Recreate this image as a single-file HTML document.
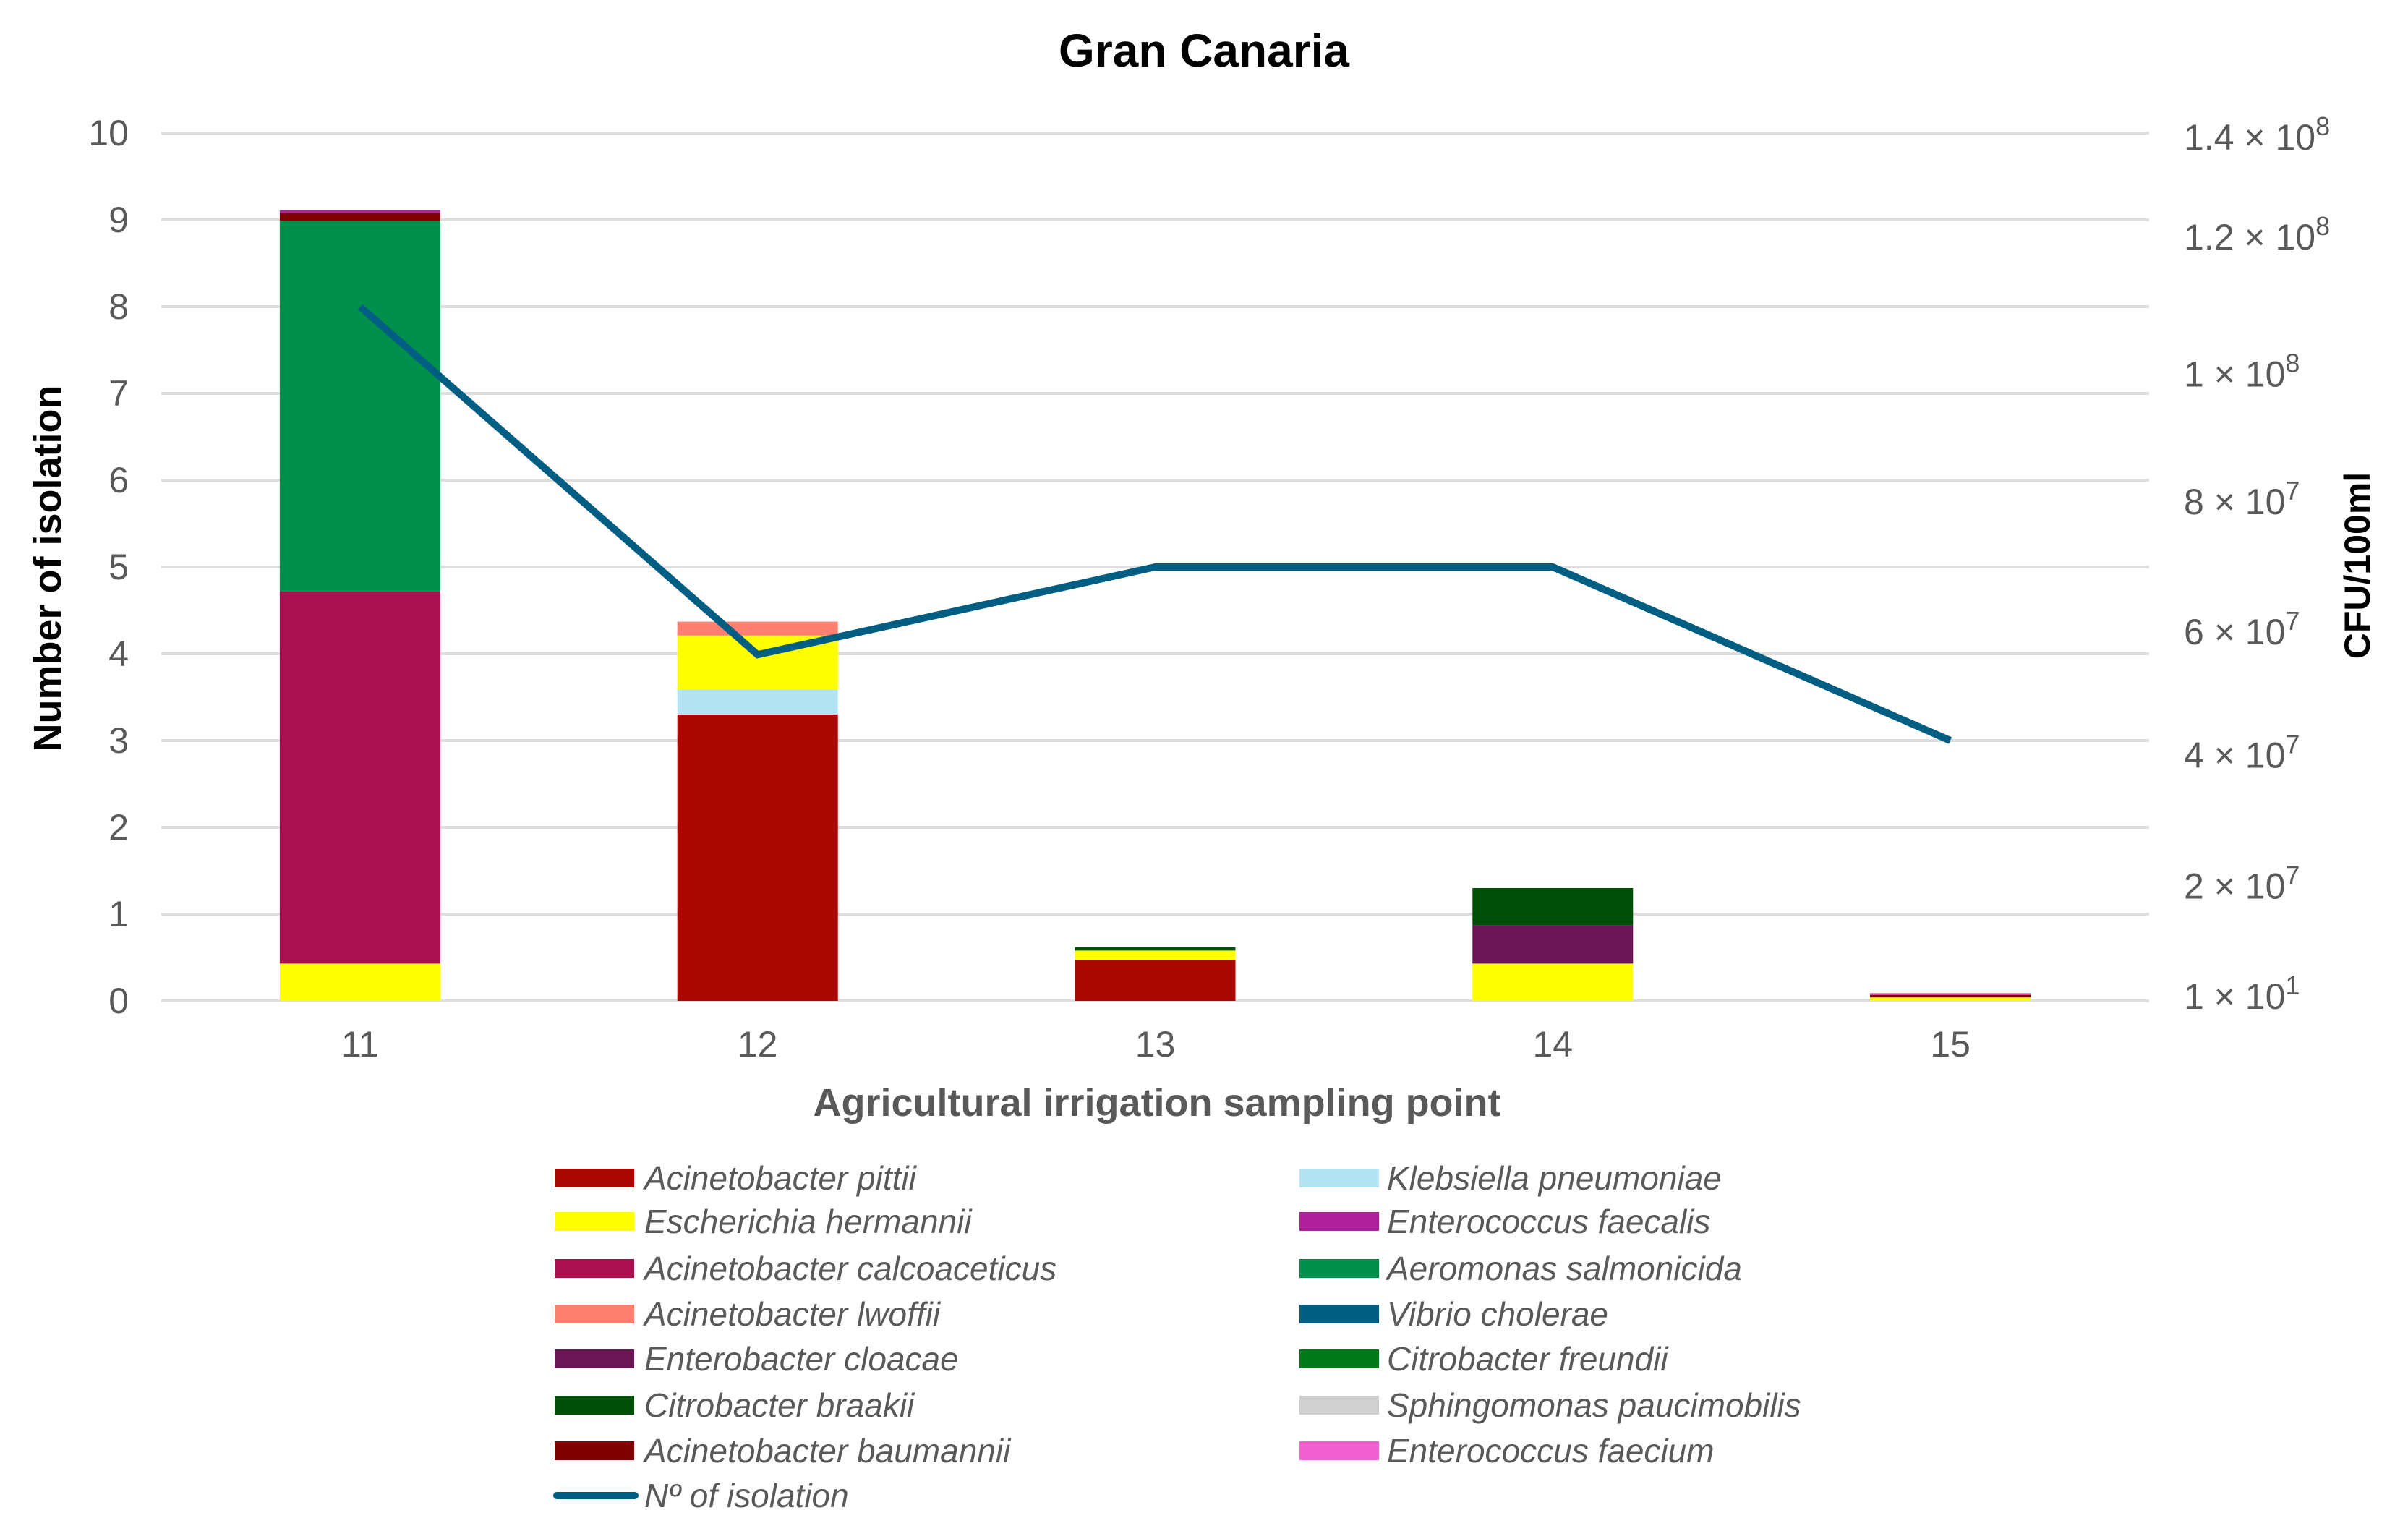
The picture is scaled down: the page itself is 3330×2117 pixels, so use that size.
<!DOCTYPE html>
<html><head><meta charset="utf-8"><style>
html,body{margin:0;padding:0;background:#fff;}
svg{display:block;font-family:"Liberation Sans",sans-serif;}
</style></head><body>
<svg id="chart" width="3330" height="2117" viewBox="0 0 3330 2117">
<text x="1665" y="92" text-anchor="middle" font-size="64" font-weight="bold" fill="#000">Gran Canaria</text>
<g id="grid"></g><g id="bars"></g><g id="line"></g><g id="axes"></g><g id="legend"></g>
<text transform="translate(84,786) rotate(-90)" text-anchor="middle" font-size="54" font-weight="bold" fill="#000">Number of isolation</text>
<text transform="translate(3277,782) rotate(-90)" text-anchor="middle" font-size="50" font-weight="bold" fill="#000">CFU/100ml</text>
<text x="1600" y="1543" text-anchor="middle" font-size="54" font-weight="bold" fill="#595959">Agricultural irrigation sampling point</text>
</svg>
<script>
const categories = ["11","12","13","14","15"];
const yTicks = [0,1,2,3,4,5,6,7,8,9,10];
const rightTickBase = ["1.4 × 10","1.2 × 10","1 × 10","8 × 10","6 × 10","4 × 10","2 × 10","1 × 10"];
const rightTickExp = ["8","8","8","7","7","7","7","1"];
const rightTickPos = [9.95,8.8,7.22,5.75,4.25,2.83,1.32,0.05];
const species = ["Acinetobacter pittii","Escherichia hermannii","Acinetobacter calcoaceticus","Acinetobacter lwoffii","Enterobacter cloacae","Citrobacter braakii","Acinetobacter baumannii","Klebsiella pneumoniae","Enterococcus faecalis","Aeromonas salmonicida","Vibrio cholerae","Citrobacter freundii","Sphingomonas paucimobilis","Enterococcus faecium"];
const colors = ["#a80800","#ffff00","#a8104e","#ff8070","#6a1554","#004f08","#7e0000","#b3e3f2","#b0209a","#00904c","#005e82","#007a18","#d0d0d0","#f060d0"];
const stack11 = [[1,0.43],[2,4.29],[9,4.27],[6,0.09],[8,0.03]];
const stack12 = [[0,3.30],[7,0.29],[1,0.62],[3,0.16]];
const stack13 = [[0,0.47],[1,0.11],[5,0.04]];
const stack14 = [[1,0.43],[4,0.44],[5,0.43]];
const stack15 = [[1,0.04],[6,0.03],[13,0.02]];
const stacks = [stack11,stack12,stack13,stack14,stack15];
const isolations = [8,3.99,5,5,3];

const NS="http://www.w3.org/2000/svg";
const L=223, R=2972, Y0=1384, Y10=184;
const y = v => Y0 - (v/10)*(Y0-Y10);
const step=(R-L)/categories.length;
const x = i => L + step*(i+0.5);
const bw=222;
function el(tag,attrs,parent){const e=document.createElementNS(NS,tag);for(const k in attrs)e.setAttribute(k,attrs[k]);parent.appendChild(e);return e;}
const grid=document.getElementById('grid'), axes=document.getElementById('axes');
yTicks.forEach(t=>{
  const g=el('line',{x1:L,x2:R,y1:y(t),y2:y(t),stroke:'#dedede','stroke-width':4},grid);
  
  
  const tx=el('text',{x:178,y:y(t)+17,'text-anchor':'end','font-size':50,fill:'#595959'},axes);
  tx.textContent=t;
  
  
});
rightTickBase.forEach((lab,i)=>{
  const tx=el('text',{x:3020,y:y(rightTickPos[i])+17,'font-size':50,fill:'#595959'},axes);
  
  
  const a=el('tspan',{},tx); a.textContent=lab;
  const b=el('tspan',{dy:-20,'font-size':36},tx); b.textContent=rightTickExp[i];
});
categories.forEach((c,i)=>{
  const tx=el('text',{x:x(i),y:1461,'text-anchor':'middle','font-size':50,fill:'#595959'},axes);
  tx.textContent=c;
  
  
});
const bars=document.getElementById('bars');
stacks.forEach((st,i)=>{
  let base=0;
  st.forEach(([si,v])=>{
    const r=el('rect',{x:x(i)-bw/2,y:y(base+v),width:bw,height:y(base)-y(base+v),fill:colors[si]},bars);
    
    
    base+=v;
  });
});
const pts=isolations.map((v,i)=>x(i)+','+y(v)).join(' ');
const pl=el('polyline',{points:pts,fill:'none',stroke:'#005e82','stroke-width':10,'stroke-linejoin':'miter'},document.getElementById('line'));


const leg=document.getElementById('legend');
const rows=[1629,1689,1754,1817,1879,1943,2006];
species.forEach((s,i)=>{
  const col=i<7?0:1, r=i%7;
  const sx=col?1797:767, tx0=col?1918:891, cy=rows[r];
  const g=el('g',{},leg);
  
  
  el('rect',{x:sx,y:cy-13,width:110,height:26,fill:colors[i]},g);
  const t=el('text',{x:tx0,y:cy+16,'font-size':46,'font-style':'italic',fill:'#595959'},g);
  t.textContent=s;
});
const g=el('g',{},leg);


el('line',{x1:770,x2:878,y1:2068,y2:2068,stroke:'#005e82','stroke-width':10,'stroke-linecap':'round'},g);
const t=el('text',{x:891,y:2084,'font-size':46,'font-style':'italic',fill:'#595959'},g);
t.textContent="Nº of isolation";
</script>
</body></html>
